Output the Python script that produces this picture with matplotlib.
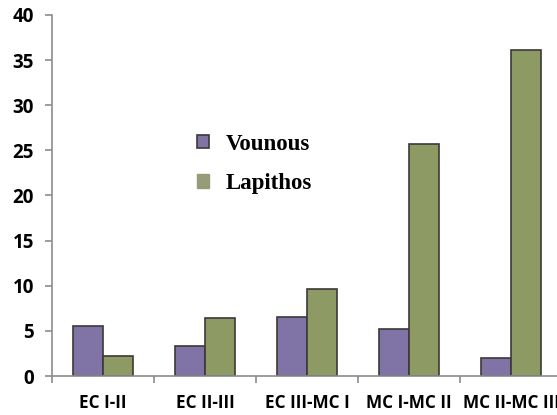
import matplotlib
matplotlib.use("Agg")
import matplotlib.pyplot as plt
import numpy as np
from matplotlib.patches import Patch

categories = ["EC I-II", "EC II-III", "EC III-MC I", "MC I-MC II", "MC II-MC III"]
vounous = [5.5, 3.3, 6.5, 5.2, 2.0]
lapithos = [2.2, 6.4, 9.6, 25.7, 36.1]
yticks = [0, 5, 10, 15, 20, 25, 30, 35, 40]

c_v = "#8073a6"
c_l = "#8e9a64"
edge = "#3d3838"
axis_c = "#8c8c8c"

W, H = 557, 415
fig = plt.figure(figsize=(W / 100, H / 100), dpi=100)
ax = fig.add_axes([52 / W, 39 / H, 510 / W, 361 / H])

x = np.arange(len(categories))
bw = 0.29
ax.bar(x - bw / 2, vounous, bw, color=c_v, edgecolor=edge, linewidth=1.2, label="Vounous")
ax.bar(x + bw / 2, lapithos, bw, color=c_l, edgecolor=edge, linewidth=1.2, label="Lapithos")

ax.set_xlim(-0.5, len(categories) - 0.5)
ax.set_ylim(0, 40)
ax.set_yticks(yticks)
ax.set_yticklabels([str(v) for v in yticks], fontfamily="Open Sans", fontweight="bold", fontsize=13.5)

ax.set_xticks(x)
ax.set_xticklabels(categories, fontfamily="Open Sans", fontweight="bold", fontsize=12.3)
ax.set_xticks(np.arange(-0.5, len(categories)), minor=True)
ax.tick_params(axis="x", which="major", length=0, pad=13)
ax.tick_params(axis="x", which="minor", length=5, color=axis_c, width=1.2)
ax.tick_params(axis="y", length=5, color=axis_c, width=1.2, pad=8)

for s in ["top", "right"]:
    ax.spines[s].set_visible(False)
for s in ["left", "bottom"]:
    ax.spines[s].set_color(axis_c)
    ax.spines[s].set_linewidth(1.2)

handles = [
    Patch(facecolor=c_v, edgecolor=edge, linewidth=1.2, label="Vounous"),
    Patch(facecolor="#969c78", edgecolor="#969c78", label="Lapithos"),
]
ax.legend(handles=handles, loc="upper left", bbox_to_anchor=(124 / 510, (400 - 137) / 361),
          frameon=False, handlelength=0.55, handleheight=0.55, handletextpad=0.7,
          labelspacing=0.82, prop={"family": "Liberation Serif", "weight": "bold", "size": 16.5})

fig.savefig("out.png", dpi=100)
